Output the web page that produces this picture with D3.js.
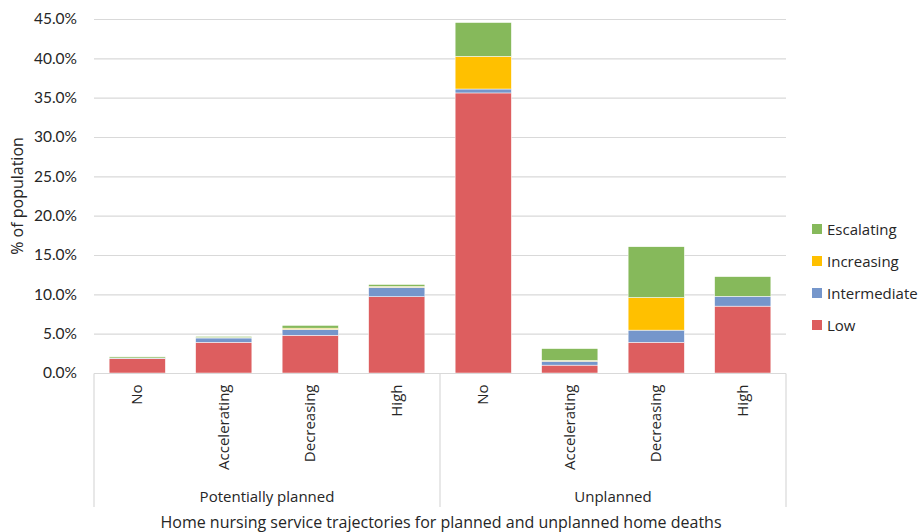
<!DOCTYPE html>
<html>
<head>
<meta charset="utf-8">
<script src="https://cdn.jsdelivr.net/npm/d3@7"></script>
<style>
  body { margin: 0; background: #fff; }
  text { font-family: "Open Sans", Lato, sans-serif; fill: #262626; }
</style>
</head>
<body>
<div id="chart"></div>
<script>
// data
var groups = ["Potentially planned", "Unplanned"];
var trajectories = ["No", "Accelerating", "Decreasing", "High"];
var seriesNames = ["Low", "Intermediate", "Increasing", "Escalating"];
var low          = [1.85, 3.9, 4.8, 9.7, 35.6, 1.0, 3.9, 8.5];
var intermediate = [0.05, 0.55, 0.75, 1.2, 0.5, 0.5, 1.55, 1.25];
var increasing   = [0.0, 0.05, 0.15, 0.1, 4.15, 0.1, 4.15, 0.0];
var escalating   = [0.15, 0.15, 0.35, 0.25, 4.3, 1.5, 6.45, 2.5];
var yTicks = [0, 5, 10, 15, 20, 25, 30, 35, 40, 45];
var colors = ["#dd5e5f", "#7596cb", "#ffc000", "#86b95b"];

const width = 922, height = 532;
const margin = ({ top: 19, right: 136, bottom: 159, left: 94 });

var rows = [];
groups.forEach(function(g, gi) {
    trajectories.forEach(function(t, ti) {
        var i = gi * trajectories.length + ti;
        rows.push({ key: g + "|" + t, group: g, traj: t,
            Low: low[i], Intermediate: intermediate[i], Increasing: increasing[i], Escalating: escalating[i] });
    });
});

var svg = d3.select("#chart").append("svg")
    .attr("width", width)
    .attr("height", height);

var x = d3.scaleBand()
    .domain(rows.map(d => d.key))
    .range([margin.left, width - margin.right])
    .paddingInner(0.35)
    .paddingOuter(0.175);

var y = d3.scaleLinear()
    .domain([0, 45])
    .range([height - margin.bottom, margin.top]);

// gridlines
svg.append("g")
    .selectAll("line")
    .data(yTicks.slice(1))
    .enter().append("line")
    .attr("x1", margin.left)
    .attr("x2", width - margin.right)
    .attr("y1", d => y(d) + 0.5)
    .attr("y2", d => y(d) + 0.5)
    .attr("stroke", "#d9d9d9")
    .attr("stroke-width", 1.2);

// y axis labels
var yAxis = d3.axisLeft(y)
    .tickValues(yTicks)
    .tickFormat(d => d.toFixed(1) + "%")
    .tickSize(0)
    .tickPadding(17);
svg.append("g")
    .attr("transform", `translate(${margin.left},0)`)
    .call(yAxis)
    .call(g => g.select(".domain").remove())
    .selectAll("text")
    .style("font-family", "Lato, sans-serif")
    .style("font-size", "15.5px")
    .attr("fill", "#595959");

// stacked bars
var stack = d3.stack().keys(seriesNames);
var layers = stack(rows);

svg.append("g")
    .selectAll("g")
    .data(layers)
    .enter().append("g")
    .attr("fill", (d, i) => colors[i])
    .selectAll("rect")
    .data(d => d)
    .enter().append("rect")
    .attr("x", d => x(d.data.key))
    .attr("width", x.bandwidth())
    .attr("y", d => y(d[1]))
    .attr("height", d => y(d[0]) - y(d[1]))
    .attr("stroke", "#fff")
    .attr("stroke-width", 0.5);

// x axis line and group separators
var axisY = y(0) + 0.5;
var sepBottom = 507;
var outer = svg.append("g").attr("stroke", "#d9d9d9").attr("stroke-width", 1.2);
outer.append("line")
    .attr("x1", margin.left).attr("x2", width - margin.right)
    .attr("y1", axisY).attr("y2", axisY);

var groupEdges = [margin.left, x(rows[4].key) - x.step() * x.paddingInner() / 2, width - margin.right];
outer.selectAll("line.sep")
    .data(groupEdges)
    .enter().append("line")
    .attr("class", "sep")
    .attr("x1", d => d).attr("x2", d => d)
    .attr("y1", axisY).attr("y2", sepBottom);

// category labels (rotated)
svg.append("g")
    .selectAll("text")
    .data(rows)
    .enter().append("text")
    .attr("transform", d => `translate(${x(d.key) + x.bandwidth() / 2 + 5},${axisY + 11}) rotate(-90)`)
    .attr("text-anchor", "end")
    .style("font-size", "15px")
    .text(d => d.traj);

// group labels
svg.append("g")
    .selectAll("text")
    .data(groups)
    .enter().append("text")
    .attr("x", (d, i) => (groupEdges[i] + groupEdges[i + 1]) / 2)
    .attr("y", 502)
    .attr("text-anchor", "middle")
    .style("font-size", "15px")
    .text(d => d);

// axis titles
svg.append("text")
    .attr("x", (margin.left + width - margin.right) / 2 + 1)
    .attr("y", 528)
    .attr("text-anchor", "middle")
    .style("font-size", "16px")
    .text("Home nursing service trajectories for planned and unplanned home deaths");

svg.append("text")
    .attr("transform", `translate(23,${(y(0) + y(45)) / 2}) rotate(-90)`)
    .attr("text-anchor", "middle")
    .style("font-size", "16px")
    .text("% of population");

// legend
var legend = svg.append("g")
    .selectAll("g")
    .data(seriesNames.slice().reverse())
    .enter().append("g")
    .attr("transform", (d, i) => `translate(812,${229 + i * 32})`);

legend.append("rect")
    .attr("x", 0).attr("y", -5)
    .attr("width", 10).attr("height", 10)
    .attr("fill", d => colors[seriesNames.indexOf(d)]);

legend.append("text")
    .attr("x", 15)
    .attr("y", 5.5)
    .style("font-size", "15px")
    .text(d => d);
</script>
</body>
</html>
